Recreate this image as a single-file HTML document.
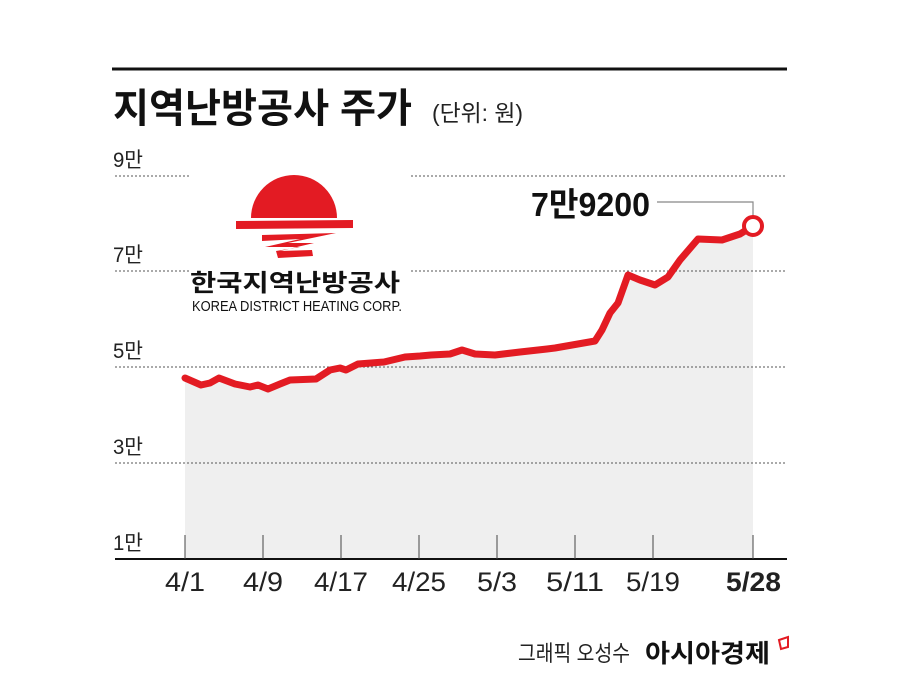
<!DOCTYPE html>
<html><head><meta charset="utf-8"><style>
html,body{margin:0;padding:0;background:#fff;}
svg{display:block;}
text{font-family:"Liberation Sans","Noto Sans CJK KR",sans-serif;}
</style></head><body>
<svg width="900" height="686" viewBox="0 0 900 686" xmlns="http://www.w3.org/2000/svg">
<rect width="900" height="686" fill="#fff"/>
<line x1="112" y1="69" x2="787" y2="69" stroke="#111" stroke-width="3"/>
<text x="113" y="122" font-size="40" font-weight="bold" fill="#111" textLength="299" lengthAdjust="spacingAndGlyphs">지역난방공사 주가</text>
<text x="432" y="121" font-size="23" fill="#222" textLength="91" lengthAdjust="spacingAndGlyphs">(단위: 원)</text>
<polygon fill="#efefef" points="185,378 201,385 210,383 219,378 235,384 250,387 258,385 268,389 280,384 290,380 316,379 330,370 340,368 346,370 358,364 384,362 405,357 420,356 431,355 450,354 462,350 475,354 495,355 520,352 547,349 555,348 595,341 602,330 610,313 618,303 628,275 640,280 655,285 668,277 680,260 698,239 722,240 740,234 753,226 753,559 185,559"/>
<g stroke="#555" stroke-width="1" stroke-dasharray="2,2">
<line x1="115" y1="176" x2="787" y2="176"/>
<line x1="115" y1="271" x2="787" y2="271"/>
<line x1="115" y1="367" x2="787" y2="367"/>
<line x1="115" y1="463" x2="787" y2="463"/>
</g>
<g font-size="21" fill="#222">
<text x="113" y="167" textLength="30" lengthAdjust="spacingAndGlyphs">9만</text>
<text x="113" y="262" textLength="30" lengthAdjust="spacingAndGlyphs">7만</text>
<text x="113" y="358" textLength="30" lengthAdjust="spacingAndGlyphs">5만</text>
<text x="113" y="454" textLength="30" lengthAdjust="spacingAndGlyphs">3만</text>
<text x="113" y="550" textLength="30" lengthAdjust="spacingAndGlyphs">1만</text>
</g>
<!-- logo -->
<rect x="190" y="150" width="220" height="165" fill="#fff"/>
<path d="M251,218 A43,43 0 1 1 337,218 Z" fill="#e31b23"/>
<polygon fill="#e31b23" points="236,221 353,220 353,228 236,229"/>
<polygon fill="#e31b23" points="262,235 336,233 288,243 314,243 280,251 312,250 313,256 278,258 276,251 300,247 265,247 300,239 262,241"/>
<text x="190" y="291" font-size="24" font-weight="bold" fill="#111" textLength="210" lengthAdjust="spacingAndGlyphs">한국지역난방공사</text>
<text x="192" y="311" font-size="15" fill="#111" textLength="210" lengthAdjust="spacingAndGlyphs">KOREA DISTRICT HEATING CORP.</text>
<polyline fill="none" stroke="#e31b23" stroke-width="7" stroke-linejoin="round" stroke-linecap="round" points="185,378 201,385 210,383 219,378 235,384 250,387 258,385 268,389 280,384 290,380 316,379 330,370 340,368 346,370 358,364 384,362 405,357 420,356 431,355 450,354 462,350 475,354 495,355 520,352 547,349 555,348 595,341 602,330 610,313 618,303 628,275 640,280 655,285 668,277 680,260 698,239 722,240 740,234 753,226"/>
<polyline fill="none" stroke="#888" stroke-width="1.2" points="657,202 753,202 753,217"/>
<circle cx="753" cy="226" r="9" fill="#fff" stroke="#e31b23" stroke-width="4"/>
<text x="531" y="216" font-size="33" font-weight="bold" fill="#111" textLength="119" lengthAdjust="spacingAndGlyphs">7만9200</text>
<line x1="115" y1="559" x2="787" y2="559" stroke="#111" stroke-width="2"/>
<g stroke="#444" stroke-width="1">
<line x1="185" y1="535" x2="185" y2="559"/><line x1="263" y1="535" x2="263" y2="559"/>
<line x1="341" y1="535" x2="341" y2="559"/><line x1="419" y1="535" x2="419" y2="559"/>
<line x1="497" y1="535" x2="497" y2="559"/><line x1="575" y1="535" x2="575" y2="559"/>
<line x1="653" y1="535" x2="653" y2="559"/><line x1="753" y1="535" x2="753" y2="559"/>
</g>
<g font-size="27" fill="#222">
<text x="165" y="591" textLength="40" lengthAdjust="spacingAndGlyphs">4/1</text>
<text x="243" y="591" textLength="40" lengthAdjust="spacingAndGlyphs">4/9</text>
<text x="314" y="591" textLength="54" lengthAdjust="spacingAndGlyphs">4/17</text>
<text x="392" y="591" textLength="54" lengthAdjust="spacingAndGlyphs">4/25</text>
<text x="477" y="591" textLength="40" lengthAdjust="spacingAndGlyphs">5/3</text>
<text x="546" y="591" textLength="58" lengthAdjust="spacingAndGlyphs">5/11</text>
<text x="626" y="591" textLength="54" lengthAdjust="spacingAndGlyphs">5/19</text>
<text x="726" y="591" font-weight="bold" textLength="55" lengthAdjust="spacingAndGlyphs">5/28</text>
</g>
<text x="518" y="661" font-size="22" fill="#222" textLength="112" lengthAdjust="spacingAndGlyphs">그래픽 오성수</text>
<text x="645" y="662" font-size="25" font-weight="bold" fill="#111" textLength="125" lengthAdjust="spacingAndGlyphs">아시아경제</text>
<path d="M779,640 L788,637 L788,647 L781,649 Z" fill="none" stroke="#e31b23" stroke-width="2"/>
</svg>
</body></html>
